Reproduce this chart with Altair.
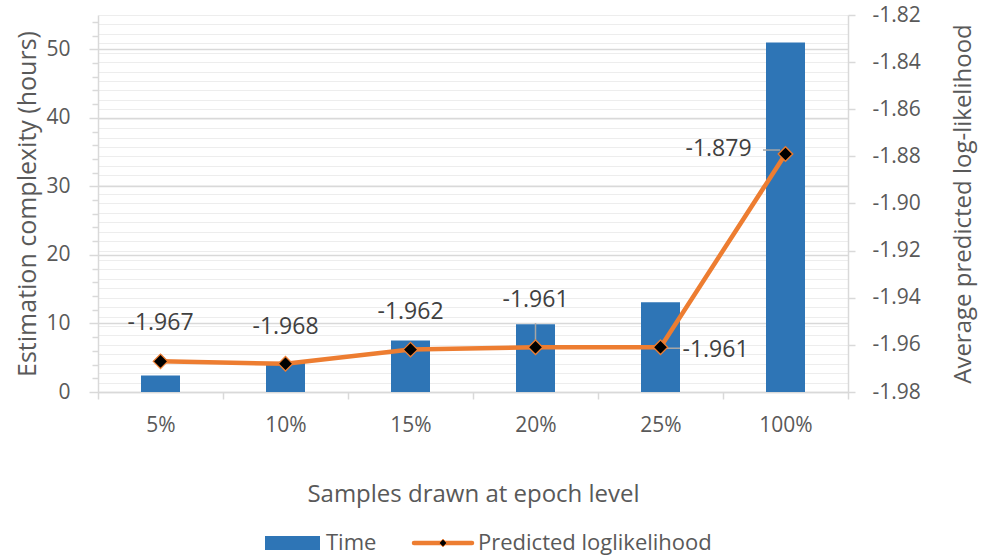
import altair as alt
import pandas as pd

# Share of samples drawn at epoch level
categories = ["5%", "10%", "15%", "20%", "25%", "100%"]
# Estimation time in hours (bars, left axis)
time_hours = [2.4, 4.3, 7.5, 9.9, 13.1, 51.0]
# Average predicted log-likelihood (line, right axis)
pred_loglik = [-1.967, -1.968, -1.962, -1.961, -1.961, -1.879]

df = pd.DataFrame({"sample": categories, "time": time_hours, "loglik": pred_loglik})

FONT = "Open Sans"
GREY = "#595959"
LABEL_GREY = "#404040"
LINE_GREY = "#d9d9d9"
BLUE = "#2e75b6"
ORANGE = "#ed7d31"

# Placement of the value labels around each marker: (dx, dy) in pixels
label_offsets = {
    "5%": (0, -38),
    "10%": (0, -37),
    "15%": (0, -38),
    "20%": (0, -47),
    "25%": (55, 3),
    "100%": (-67, -5),
}

x_enc = alt.X(
    "sample:N",
    sort=categories,
    scale=alt.Scale(paddingInner=0, paddingOuter=0),
    axis=alt.Axis(
        title="Samples drawn at epoch level",
        labelAngle=0,
        tickBand="extent",
        grid=False,
        domainColor=LINE_GREY,
        domainWidth=1.5,
        tickColor=LINE_GREY,
        tickWidth=1.5,
        tickSize=7,
        labelPadding=15,
        titlePadding=47,
    ),
)

left_ticks = list(range(0, 55, 2))
major_left = "datum.value % 10 === 0"
y_left = alt.Y(
    "time:Q",
    scale=alt.Scale(domain=[0, 55], nice=False, zero=True),
    axis=alt.Axis(
        title="Estimation complexity (hours)",
        values=left_ticks,
        labelExpr=f"{major_left} ? datum.label : ''",
        grid=True,
        gridColor=LINE_GREY,
        gridWidth=1.5,
        gridOpacity={"condition": {"test": major_left, "value": 1}, "value": 0},
        domainColor=LINE_GREY,
        domainWidth=1.5,
        tickColor=LINE_GREY,
        tickWidth=1.5,
        tickSize={"condition": {"test": major_left, "value": 9}, "value": 6},
        labelPadding=19,
        titlePadding=5,
        titleFontSize=25,
    ),
)

right_ticks = [round(-1.98 + 0.004 * k, 3) for k in range(41)]
major_right = "abs(round(datum.value * 1000)) % 20 === 0"
y_right = alt.Y(
    "loglik:Q",
    scale=alt.Scale(domain=[-1.98, -1.82], nice=False, zero=False),
    axis=alt.Axis(
        title="Average predicted log-likelihood",
        orient="right",
        titleAngle=270,
        values=right_ticks,
        labelExpr=f"{major_right} ? format(datum.value, '.2f') : ''",
        grid=True,
        gridColor="#ededed",
        gridWidth=1.2,
        domainColor=LINE_GREY,
        domainWidth=1.5,
        tickColor=LINE_GREY,
        tickWidth=1.5,
        tickSize=7,
        tickOpacity={"condition": {"test": major_right, "value": 1}, "value": 0},
        labelPadding=17,
        titlePadding=55,
    ),
)

bars = alt.Chart(df).mark_bar(size=39, color=BLUE).encode(x=x_enc, y=y_left)

line = alt.Chart(df).mark_line(color=ORANGE, strokeWidth=4.5).encode(x=x_enc, y=y_right)

points = alt.Chart(df).mark_point(
    shape="diamond", filled=True, fill="black", stroke=ORANGE,
    strokeWidth=1.3, size=210, opacity=1,
).encode(x=x_enc, y=y_right)

labels = [
    alt.Chart(df)
    .transform_filter(alt.datum.sample == cat)
    .mark_text(dx=dx, dy=dy, font=FONT, fontSize=23, color=LABEL_GREY, align="center", baseline="middle")
    .encode(x=x_enc, y=y_right, text=alt.Text("loglik:Q", format=".3f"))
    for cat, (dx, dy) in label_offsets.items()
]

# Short leader lines tying the offset labels to their markers
leader_style = dict(color="#a6a6a6", thickness=1.5, opacity=1)
leaders = [
    alt.Chart(df).transform_filter(alt.datum.sample == "20%")
    .mark_tick(orient="vertical", size=22, yOffset=-13, **leader_style)
    .encode(x=x_enc, y=y_right),
    alt.Chart(df).transform_filter(alt.datum.sample == "25%")
    .mark_tick(orient="horizontal", size=15, xOffset=12, yOffset=1, **leader_style)
    .encode(x=x_enc, y=y_right),
    alt.Chart(df).transform_filter(alt.datum.sample == "100%")
    .mark_tick(orient="horizontal", size=17, xOffset=-14, yOffset=-4, **leader_style)
    .encode(x=x_enc, y=y_right),
]

right_layer = alt.layer(line, *leaders, points, *labels)

# Legend drawn below the axis title
legend_df = pd.DataFrame({"series": ["Time", "Predicted loglikelihood"]})
legend_text = dict(font=FONT, fontSize=22, color=GREY, align="left", baseline="middle")
legend = [
    alt.Chart(legend_df).transform_filter(alt.datum.series == "Time").mark_rect(color=BLUE)
    .encode(x=alt.value(167), x2=alt.value(222), y=alt.value(521), y2=alt.value(535)),
    alt.Chart(legend_df).transform_filter(alt.datum.series == "Time").mark_text(**legend_text)
    .encode(x=alt.value(228), y=alt.value(528), text="series:N"),
    alt.Chart(legend_df).transform_filter(alt.datum.series != "Time").mark_rule(color=ORANGE, strokeWidth=4.5, strokeCap="round")
    .encode(x=alt.value(316), x2=alt.value(374), y=alt.value(528)),
    alt.Chart(legend_df).transform_filter(alt.datum.series != "Time")
    .mark_point(shape="diamond", filled=True, fill="black", stroke=ORANGE, strokeWidth=1, size=60, opacity=1)
    .encode(x=alt.value(345), y=alt.value(528)),
    alt.Chart(legend_df).transform_filter(alt.datum.series != "Time").mark_text(**legend_text)
    .encode(x=alt.value(380), y=alt.value(528), text="series:N"),
]

chart = (
    alt.layer(bars, right_layer, *legend)
    .resolve_scale(y="independent")
    .properties(
        width=750,
        height=377,
        autosize=alt.AutoSizeParams(type="none"),
        padding={"left": 98, "top": 15, "right": 134, "bottom": 166},
        background="white",
    )
    .configure(
        locale={"number": {"decimal": ".", "thousands": ",", "grouping": [3],
                           "currency": ["$", ""], "minus": "-"}}
    )
    .configure_view(strokeWidth=0)
    .configure_axis(
        labelFont=FONT, labelFontSize=21, labelColor=GREY,
        titleFont=FONT, titleFontSize=24, titleColor=GREY, titleFontWeight="normal",
    )
)

chart.save("out.html", embed_options={"renderer": "svg", "actions": False})
